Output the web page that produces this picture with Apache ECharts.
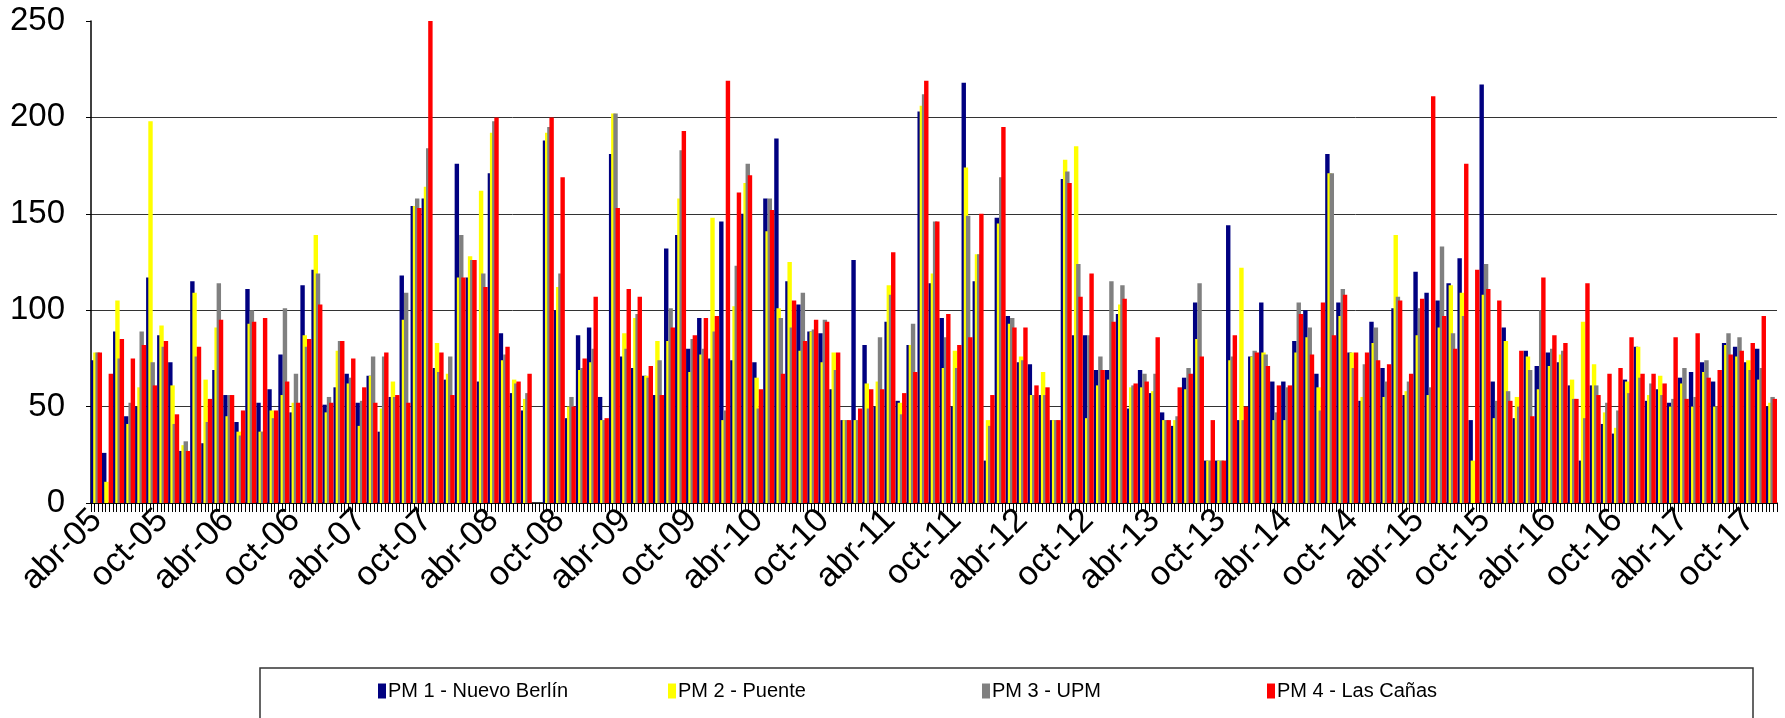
<!DOCTYPE html>
<html>
<head>
<meta charset="utf-8">
<script src="https://cdn.jsdelivr.net/npm/echarts@6/dist/echarts.min.js"></script>
<style>html,body{margin:0;padding:0;background:#fff}#c{width:1785px;height:718px}</style>
</head>
<body>
<div id="c"></div>
<script>
const monthNames = ['ene','feb','mar','abr','may','jun','jul','ago','sep','oct','nov','dic'];
const startYear = 2005, startMonth = 3, monthCount = 153;
const categories = [];
for (let i = 0; i < monthCount; i++) {
  const mi = startMonth + i;
  const yy = startYear + Math.floor(mi / 12);
  categories.push(monthNames[mi % 12] + '-' + String(yy % 100).padStart(2, '0'));
}
const yTicks = [0, 50, 100, 150, 200, 250];
const seriesNames = ['PM 1 - Nuevo Berlín', 'PM 2 - Puente', 'PM 3 - UPM', 'PM 4 - Las Cañas'];
const seriesColors = ['#000080', '#FFFF00', '#808080', '#FF0000'];

const pm1 = [74,26,89,45,50,117,87,73,27,115,31,69,56,42,111,52,59,77,47,113,121,51,60,67,52,66,37,55,118,154,
158,70,64,176,117,63,171,88,57,48,null,188,100,44,87,91,55,181,76,70,66,56,132,139,80,96,75,146,74,150,
73,158,189,115,103,89,88,59,43,126,82,50,94,53,82,203,114,96,50,218,115,22,148,97,73,72,56,43,168,87,
87,69,69,98,49,69,57,47,40,65,104,22,22,144,43,76,104,63,63,84,100,67,181,104,78,53,94,70,101,56,
120,109,105,114,127,43,217,63,91,44,79,71,78,73,61,22,61,41,36,64,81,53,59,52,65,68,73,63,83,81,
73,80,50];
const pm2 = [78,11,105,41,60,198,92,61,30,109,64,91,45,37,93,37,48,56,52,87,139,47,79,62,40,66,49,63,95,154,
164,83,67,117,128,162,192,74,64,54,null,192,112,50,69,73,43,202,88,96,66,84,84,158,68,77,148,43,102,166,
65,141,101,125,79,89,73,78,43,43,62,63,113,52,82,206,119,70,79,174,129,43,145,93,76,56,68,43,178,185,
44,61,64,103,60,60,58,43,43,59,85,22,22,74,122,76,78,43,43,78,86,60,171,97,78,55,83,55,139,58,
87,56,91,113,109,22,108,44,84,55,76,59,71,77,64,94,72,47,39,63,81,56,66,50,62,50,68,50,82,76,
74,64,52];
const pm3 = [78,null,75,52,89,73,81,41,32,76,42,114,56,35,100,37,44,101,67,81,119,55,84,65,53,76,76,55,109,158,
184,68,76,139,126,119,198,77,62,57,null,195,119,55,70,80,43,202,80,98,65,74,101,183,85,80,89,48,123,176,
49,158,96,91,109,90,95,69,43,43,49,86,108,46,93,212,146,86,70,149,129,40,169,96,74,56,56,43,172,124,
87,76,115,113,61,67,67,43,45,70,114,22,22,76,43,79,77,47,60,104,91,48,171,111,70,72,91,63,107,63,
101,60,133,88,97,null,124,53,58,50,69,100,80,79,54,44,61,52,48,57,65,62,56,54,70,55,74,50,88,86,
69,70,55];
const pm4 = [78,67,85,75,82,61,84,46,27,81,54,95,56,48,94,96,48,63,52,85,103,52,84,75,60,52,78,56,52,153,
250,78,56,117,126,112,200,81,63,67,null,200,169,50,75,107,44,153,111,107,71,56,91,193,87,96,97,219,161,170,
59,152,67,105,84,95,94,78,43,49,59,59,130,57,68,219,146,98,82,86,150,56,195,91,91,61,60,43,166,107,
119,69,94,106,62,63,86,43,60,67,76,43,22,87,50,78,71,61,61,98,77,104,87,108,78,78,74,72,105,67,
106,211,97,80,176,121,111,105,53,79,45,117,87,83,54,114,56,67,70,86,67,67,62,86,54,88,65,69,77,79,
83,97,54];
const seriesData = [pm1, pm2, pm3, pm4];

const tickSlots = [];
for (let i = 0; i < monthCount * 3; i++) tickSlots.push('');

const FONT = 'Liberation Sans';
const legendLefts = [378, 668, 982, 1267];

const chart = echarts.init(document.getElementById('c'), null, {renderer: 'canvas'});
chart.setOption({
  animation: false,
  backgroundColor: '#fff',
  grid: {left: 91, right: 8, top: 21, bottom: 215, containLabel: false},
  xAxis: [
    {
      type: 'category', data: categories,
      axisLine: {lineStyle: {color: '#000', width: 1.5}},
      axisTick: {show: false},
      axisLabel: {interval: 5, rotate: 45, fontSize: 34, color: '#000', fontFamily: FONT, margin: 12}
    },
    {
      type: 'category', data: tickSlots, position: 'bottom',
      axisLine: {show: false},
      axisTick: {show: true, interval: 0, length: 9, lineStyle: {color: '#000', width: 1}},
      axisLabel: {show: false},
      splitLine: {show: false}
    }
  ],
  yAxis: {
    type: 'value', min: yTicks[0], max: yTicks[yTicks.length - 1], interval: 50,
    axisLine: {show: true, lineStyle: {color: '#000', width: 1.5}},
    axisTick: {show: true, length: 5, lineStyle: {color: '#000'}},
    axisLabel: {fontSize: 33, color: '#000', fontFamily: FONT, margin: 26},
    splitLine: {show: true, showMaxLine: false, lineStyle: {color: '#333', width: 1}}
  },
  legend: seriesNames.map((n, i) => ({
    data: [n], left: legendLefts[i], top: 681, padding: 0,
    icon: 'rect', itemWidth: 8, itemHeight: 15, itemGap: 5,
    textStyle: {fontSize: 20, color: '#000', fontFamily: FONT, padding: [0, 0, 0, -3]},
    selectedMode: false
  })),
  graphic: [{
    type: 'rect', shape: {x: 260, y: 668, width: 1493, height: 80},
    style: {fill: 'none', stroke: '#333', lineWidth: 1.5}, silent: true
  }],
  series: seriesNames.map((n, i) => ({
    name: n, type: 'bar', xAxisIndex: 0, data: seriesData[i],
    barWidth: '40%', barGap: '-50%',
    itemStyle: {color: seriesColors[i]}
  }))
});
</script>
</body>
</html>
